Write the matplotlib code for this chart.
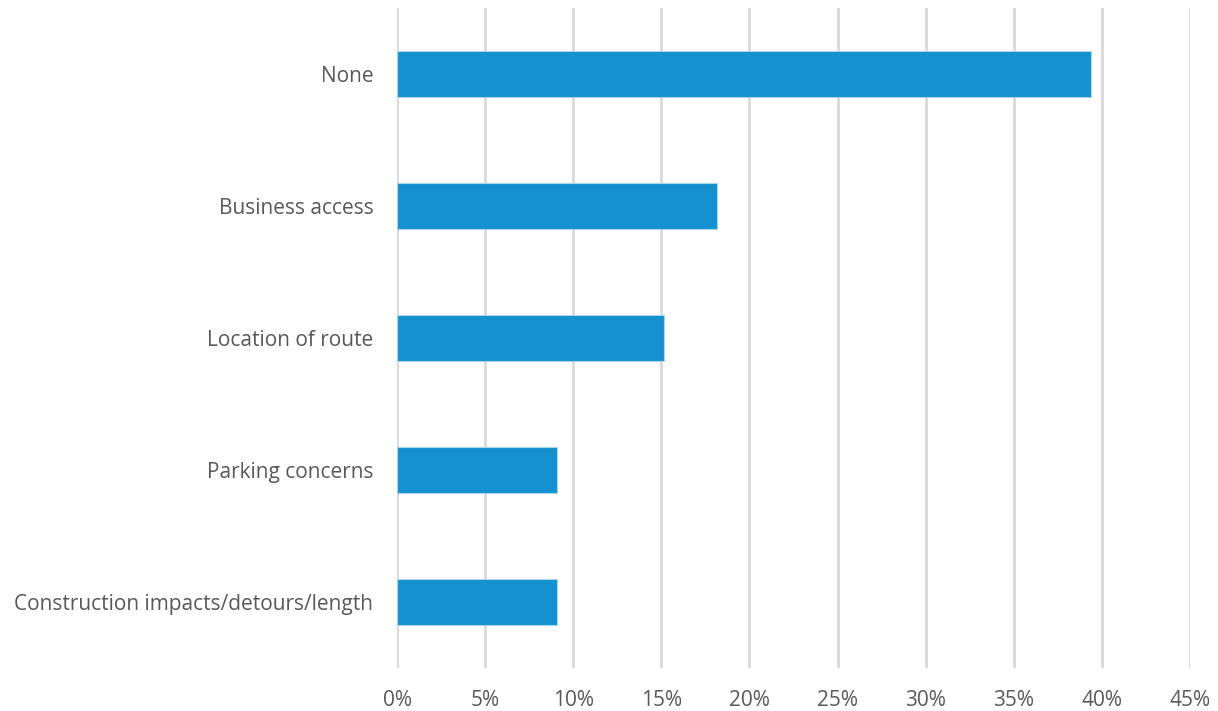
import matplotlib
matplotlib.use("Agg")
import matplotlib.pyplot as plt
from matplotlib.ticker import FuncFormatter, MultipleLocator

categories = [
    "None",
    "Business access",
    "Location of route",
    "Parking concerns",
    "Construction impacts/detours/length",
]
shares = [13 / 33, 6 / 33, 5 / 33, 3 / 33, 3 / 33]

plt.rcParams["font.family"] = ["Open Sans", "DejaVu Sans"]
text_color = "#595959"

fig = plt.figure(figsize=(12.18, 7.11), dpi=100)
ax = fig.add_axes([397 / 1218, 1 - 668 / 711, (1190 - 397) / 1218, (668 - 8) / 711])

y = list(range(len(categories)))
ax.barh(y, shares, height=0.35, color="#1591CF", edgecolor="#a9d6ee", linewidth=0.8, zorder=3)
ax.set_ylim(len(categories) - 0.5, -0.5)
ax.set_yticks(y)
ax.set_yticklabels(categories)

ax.set_xlim(0, 0.45)
ax.xaxis.set_major_locator(MultipleLocator(0.05))
ax.xaxis.set_major_formatter(FuncFormatter(lambda v, _: f"{v * 100:.0f}%"))
ax.grid(axis="x", color="#d9d9d9", linewidth=2, zorder=0)
ax.set_axisbelow(True)

for s in ax.spines.values():
    s.set_visible(False)
ax.tick_params(axis="both", length=0, labelsize=15, colors=text_color)
ax.tick_params(axis="y", pad=17)
ax.tick_params(axis="x", pad=15.5)

fig.savefig("out.png", dpi=100, facecolor="white")
